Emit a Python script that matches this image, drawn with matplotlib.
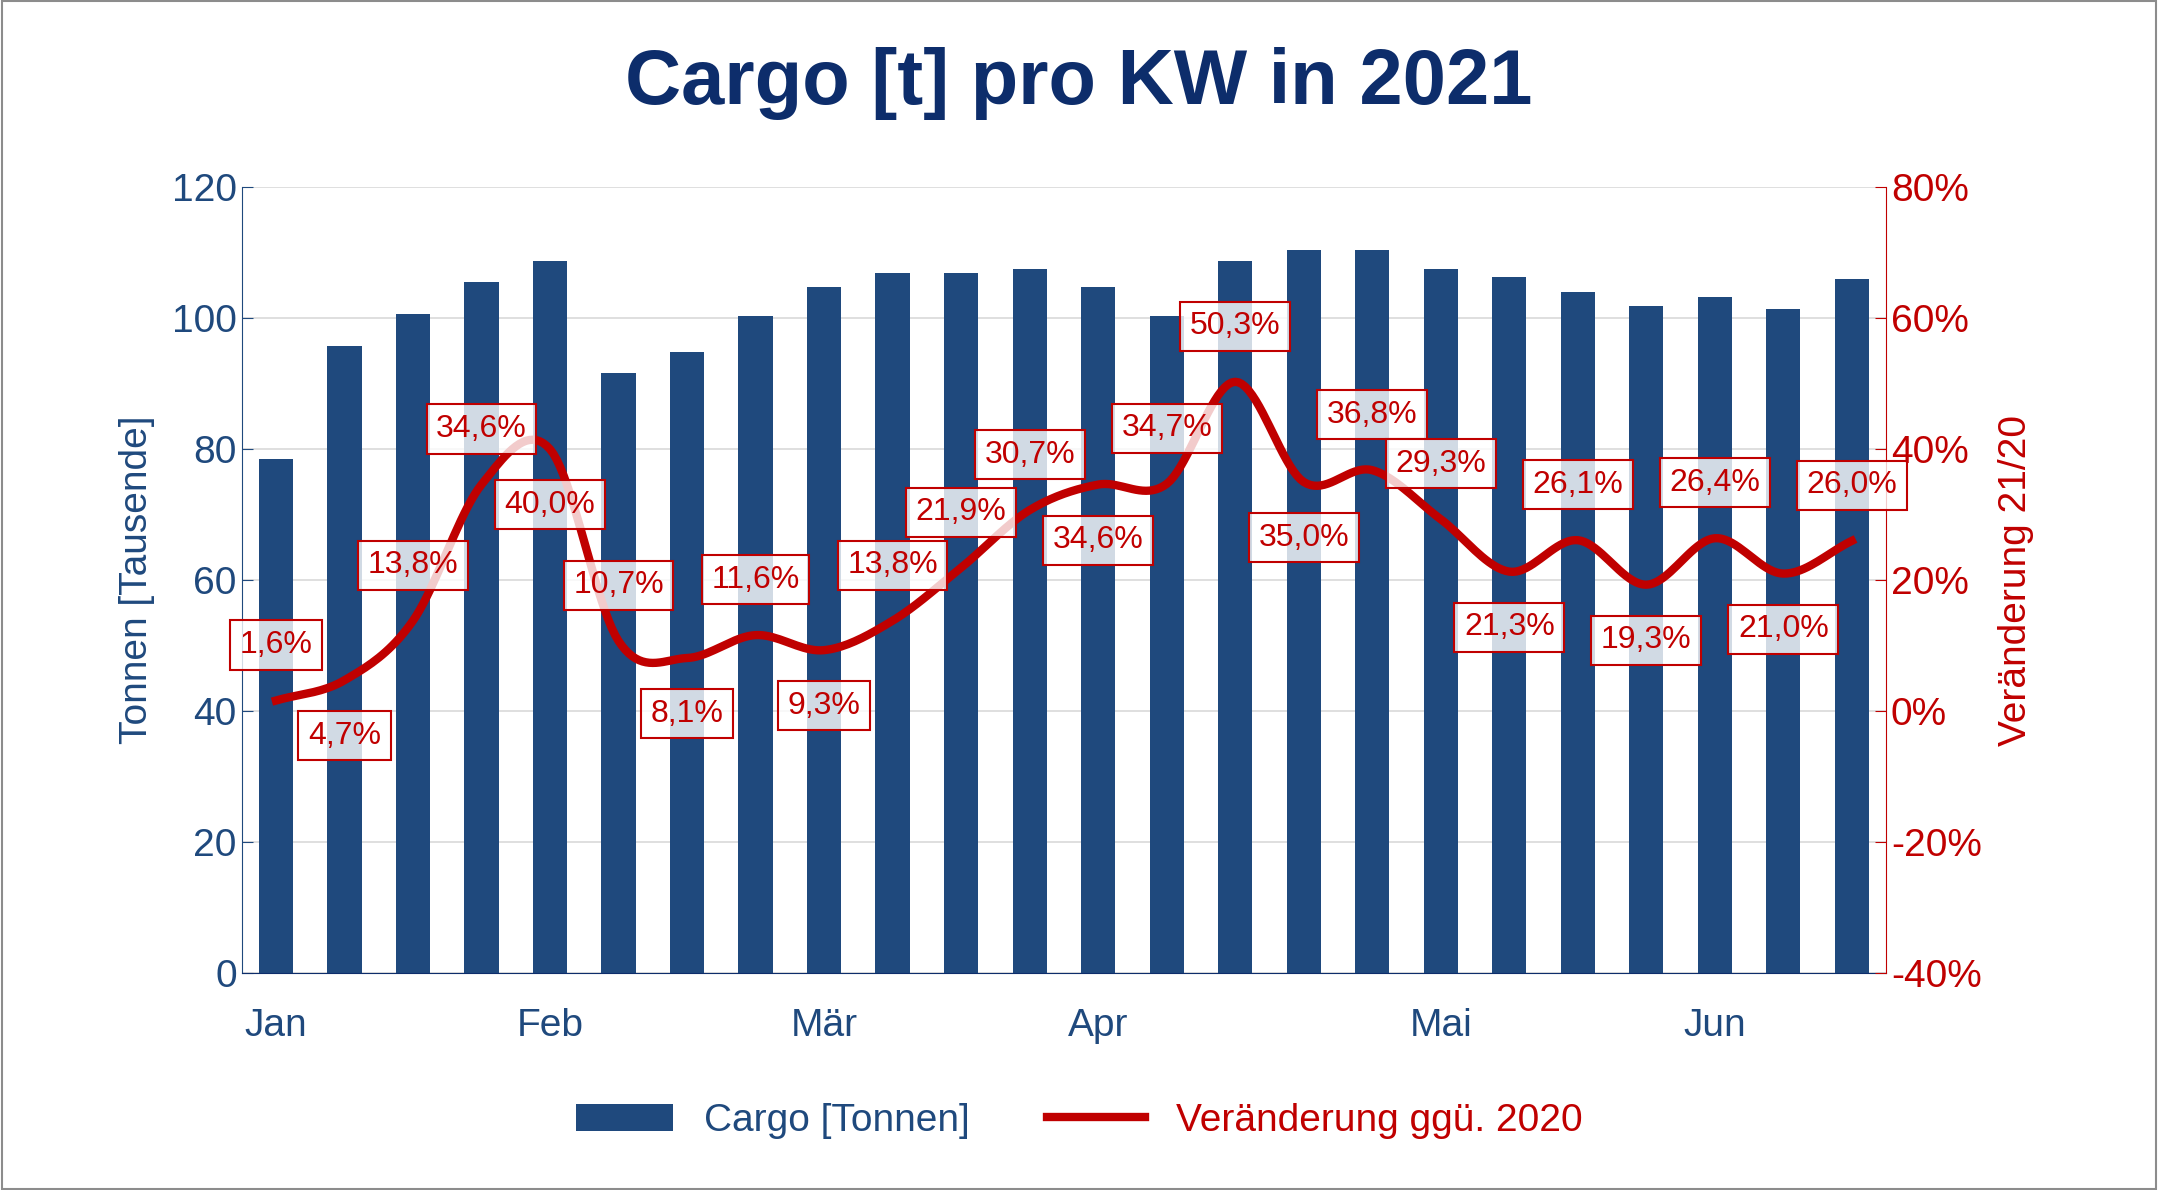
import numpy as np
import matplotlib.pyplot as plt
from matplotlib.lines import Line2D
from matplotlib.patches import Patch

# Data
weeks = list(range(24))
cargo_t = [78.5, 95.8, 100.6, 105.5, 108.7, 91.6, 94.8, 100.3, 104.8, 107.0, 107.0, 107.5,
           104.8, 100.3, 108.7, 110.4, 110.5, 107.6, 106.3, 104.0, 101.9, 103.2, 101.5, 106.0]
change_pct = [1.6, 4.7, 13.8, 34.6, 40.0, 10.7, 8.1, 11.6, 9.3, 13.8, 21.9, 30.7,
              34.6, 34.7, 50.3, 35.0, 36.8, 29.3, 21.3, 26.1, 19.3, 26.4, 21.0, 26.0]
label_side = [1, -1, 1, 1, -1, 1, -1, 1, -1, 1, 1, 1,
              -1, 1, 1, -1, 1, 1, -1, 1, -1, 1, -1, 1]
month_pos = [0, 4, 8, 12, 17, 21]
month_labels = ['Jan', 'Feb', 'Mär', 'Apr', 'Mai', 'Jun']

bar_col = '#1F497D'
red = '#C00000'
navy = '#0D2D6B'


def catmull_rom(x, y, n=20):
    # smooth line through the points, like Excel's smoothed line
    x = np.asarray(x, float)
    y = np.asarray(y, float)
    px = np.concatenate([[2 * x[0] - x[1]], x, [2 * x[-1] - x[-2]]])
    py = np.concatenate([[2 * y[0] - y[1]], y, [2 * y[-1] - y[-2]]])
    xs, ys = [], []
    t = np.linspace(0, 1, n, endpoint=False)
    for i in range(1, len(px) - 2):
        for p, out in ((px, xs), (py, ys)):
            p0, p1, p2, p3 = p[i - 1], p[i], p[i + 1], p[i + 2]
            out.extend(0.5 * (2 * p1 + (-p0 + p2) * t + (2 * p0 - 5 * p1 + 4 * p2 - p3) * t ** 2
                              + (-p0 + 3 * p1 - 3 * p2 + p3) * t ** 3))
    xs.append(x[-1])
    ys.append(y[-1])
    return np.array(xs), np.array(ys)


plt.rcParams['font.family'] = 'Liberation Sans'
fig = plt.figure(figsize=(21.58, 11.90), dpi=100)
fig.patches.append(plt.Rectangle((0.001, 0.001), 0.998, 0.998, transform=fig.transFigure,
                                 fill=False, edgecolor='#8C8C8C', linewidth=1.5))
ax = fig.add_axes([0.112, 0.1825, 0.762, 0.66])
ax.bar(weeks, cargo_t, width=0.5, color=bar_col, zorder=2)
ax.set_ylim(0, 120)
ax.set_xlim(-0.5, 23.5)
ax.set_yticks(range(0, 121, 20))
ax.yaxis.grid(True, color='#D9D9D9', linewidth=1.2, zorder=0)
ax.set_xticks(month_pos)
ax.set_xticklabels(month_labels)
ax.tick_params(axis='x', length=0, pad=25, labelsize=28, labelcolor=bar_col)
ax.tick_params(axis='y', labelsize=28, labelcolor=bar_col, color=bar_col, length=8, direction='in')
for s in ['top', 'right']:
    ax.spines[s].set_visible(False)
ax.spines['left'].set_color(bar_col)
ax.spines['bottom'].set_color('#0D2D6B')
ax.set_ylabel('Tonnen [Tausende]', fontsize=28, color=bar_col, labelpad=12)

ax2 = ax.twinx()
sx, sy = catmull_rom(weeks, change_pct)
ax2.plot(sx, sy, color=red, linewidth=6, zorder=3)
ax2.set_ylim(-40, 80)
ax2.set_yticks(range(-40, 81, 20))
ax2.set_yticklabels([f'{v}%' for v in range(-40, 81, 20)])
ax2.tick_params(axis='y', labelsize=28, labelcolor=red, color=red, length=8, direction='in')
for s in ['top', 'left', 'bottom']:
    ax2.spines[s].set_visible(False)
ax2.spines['right'].set_color(red)
ax2.set_ylabel('Veränderung 21/20', fontsize=28, color=red, labelpad=12)

for x, v, side in zip(weeks, change_pct, label_side):
    ax2.annotate(f'{v:.1f}%'.replace('.', ','), (x, v), xytext=(0, 40 * side),
                 textcoords='offset points', ha='center', va='center', fontsize=23, color=red,
                 bbox=dict(boxstyle='square,pad=0.3', facecolor=(1, 1, 1, 0.8),
                           edgecolor=red, linewidth=1.5), zorder=5)

fig.text(0.5, 0.93, 'Cargo [t] pro KW in 2021', ha='center', va='center',
         fontsize=56, fontweight='bold', color=navy)
handles = [Patch(facecolor=bar_col), Line2D([0], [0], color=red, linewidth=6)]
fig.legend(handles, ['Cargo [Tonnen]', 'Veränderung ggü. 2020'], loc='center',
           bbox_to_anchor=(0.5, 0.058), ncol=2, frameon=False, fontsize=28,
           handlelength=2.5, columnspacing=2, labelcolor=[bar_col, red])
fig.savefig('out.png', dpi=100)
